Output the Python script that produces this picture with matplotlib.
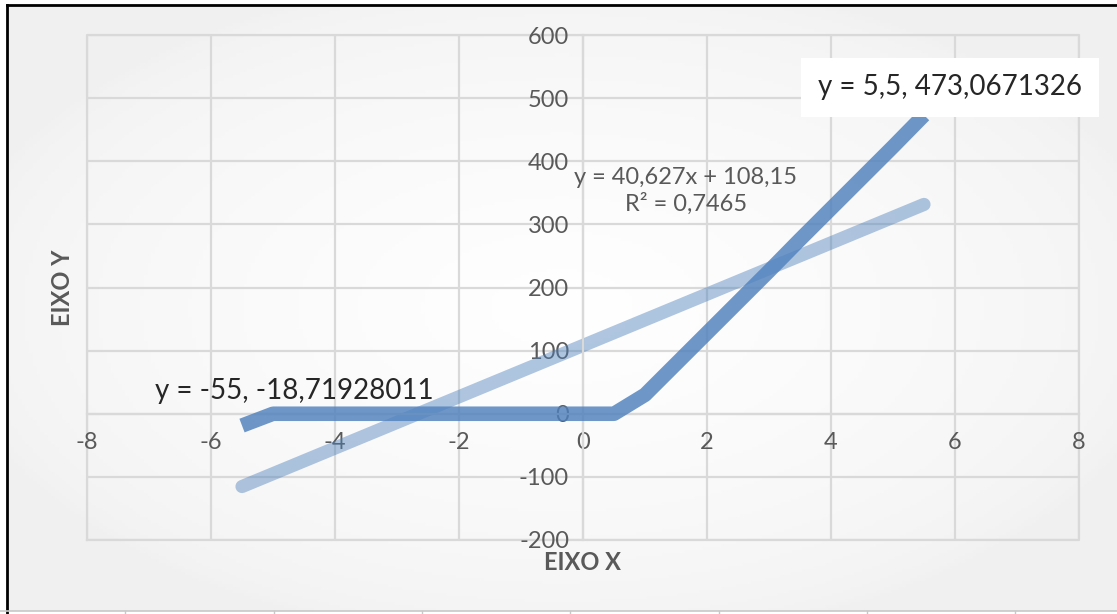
import numpy as np
import matplotlib.pyplot as plt
from matplotlib.lines import Line2D

plt.rcParams['font.family'] = ['Lato', 'DejaVu Sans']
plt.rcParams['axes.unicode_minus'] = False

# data series (x step 0.5)
x_vals = [-5.5, -5, -4.5, -4, -3.5, -3, -2.5, -2, -1.5, -1, -0.5, 0, 0.5,
          1, 1.5, 2, 2.5, 3, 3.5, 4, 4.5, 5, 5.5]
y_vals = [-18.71928011, 0, 0, 0, 0, 0, 0, 0, 0, 0, 0, 0, 0,
          30, 79, 128, 177, 226, 276, 325, 374, 423, 473.0671326]

# linear trendline coefficients
slope = 40.627
intercept = 108.15
r2 = 0.7465

x_ticks = [-8, -6, -4, -2, 0, 2, 4, 6, 8]
y_ticks = [-200, -100, 0, 100, 200, 300, 400, 500, 600]

grid_c = '#d9d9d9'
label_c = '#595959'
blue = '#4f81bd'

fig = plt.figure(figsize=(11.17, 6.14), dpi=100)
fig.patch.set_facecolor('white')

# soft grey-to-white gradient behind the chart
bg = fig.add_axes([7 / 1117, 3 / 614, 1110 / 1117, 606 / 614])
gx, gy = np.meshgrid(np.linspace(-1, 1, 300), np.linspace(-1, 1, 200))
shade = 0.945 + 0.055 * np.clip(1 - np.sqrt((gx * 0.9) ** 2 + (gy * 0.9) ** 2), 0, 1) ** 0.6
bg.imshow(np.dstack([shade] * 3), aspect='auto', extent=[0, 1, 0, 1])
bg.set_axis_off()

ax = fig.add_axes([87 / 1117, 1 - 540 / 614, 992 / 1117, 505 / 614])
ax.set_facecolor('none')
ax.set_xlim(-8, 8)
ax.set_ylim(-200, 600)
ax.set_xticks(x_ticks)
ax.set_yticks(y_ticks)
ax.set_xticklabels([str(v) for v in x_ticks])
ax.set_yticklabels([str(v) for v in y_ticks])
ax.grid(True, color=grid_c, lw=1.6)
ax.set_axisbelow(True)

for side in ['top', 'right']:
    ax.spines[side].set_visible(False)
ax.spines['left'].set_position('zero')
ax.spines['bottom'].set_position('zero')
for side in ['left', 'bottom']:
    ax.spines[side].set_color(grid_c)
    ax.spines[side].set_linewidth(1.6)
ax.tick_params(axis='both', length=0, labelsize=17, labelcolor=label_c)
ax.tick_params(axis='x', pad=13)
ax.tick_params(axis='y', pad=10)

# outer plot-area box
ax.plot([-8, 8, 8, -8, -8], [-200, -200, 600, 600, -200], color=grid_c, lw=1.6,
        clip_on=False, zorder=0.5)

# trendline
tx = np.array([min(x_vals), max(x_vals)])
ax.plot(tx, slope * tx + intercept, color=blue, alpha=0.45, lw=9.5,
        solid_capstyle='round', zorder=2)

# data line
ax.plot(x_vals, y_vals, color=blue, alpha=0.82, lw=10.5,
        solid_capstyle='butt', solid_joinstyle='round', zorder=3)

ax.text(1.66, 353, 'y = 40,627x + 108,15\nR² = 0,7465', ha='center', va='center',
        fontsize=17, color=label_c, linespacing=1.25, zorder=4)

ax.text(-4.65, 36, 'y = -55, -18,71928011', ha='center', va='center',
        fontsize=20, color='#262626', zorder=4)
ax.text(5.92, 517, 'y = 5,5, 473,0671326', ha='center', va='center',
        fontsize=20, color='#262626', zorder=4,
        bbox=dict(boxstyle='square,pad=0.6', fc='white', ec='none'))

fig.text(583 / 1117, 1 - 562 / 614, 'EIXO X', ha='center', va='center',
         fontsize=17, color=label_c, fontweight='bold')
fig.text(62 / 1117, 1 - 288 / 614, 'EIXO Y', ha='center', va='center',
         fontsize=17, color=label_c, fontweight='bold', rotation=90)

# frame lines around the chart object
fig.add_artist(Line2D([7 / 1117, 7 / 1117], [0, 1 - 5 / 614], color='black', lw=2))
fig.add_artist(Line2D([7 / 1117, 1], [1 - 5 / 614, 1 - 5 / 614], color='black', lw=2))
fig.add_artist(Line2D([0, 1], [1 - 611 / 614, 1 - 611 / 614], color='#c8c8c8', lw=1.2))
for px in [125, 274, 422, 570, 719, 867, 1015]:
    fig.add_artist(Line2D([px / 1117, px / 1117], [0, 1 - 611 / 614], color='#c8c8c8', lw=1))

fig.savefig('out.png', dpi=100)
